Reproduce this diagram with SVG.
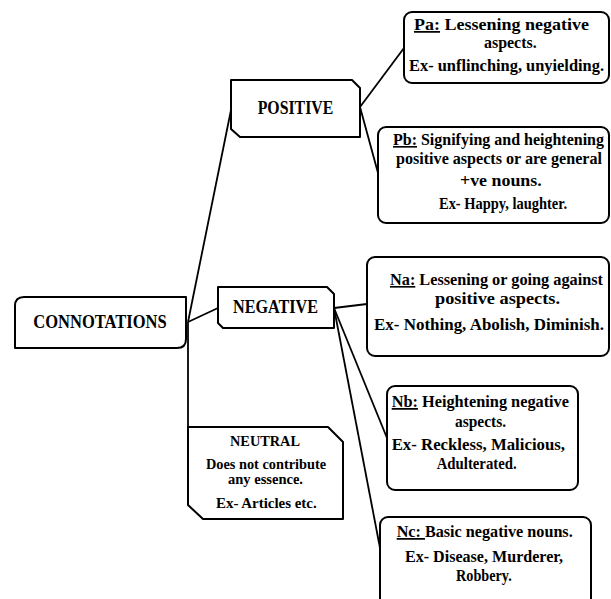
<svg xmlns="http://www.w3.org/2000/svg" width="611" height="599" viewBox="0 0 611 599">
<style>
.box{fill:#fff;stroke:#000;stroke-width:2;stroke-linejoin:round}
.con line{stroke:#000;stroke-width:1.8}
text{font-family:"Liberation Serif","Times New Roman",serif;font-weight:bold;fill:#000;text-anchor:start}
.h{font-size:18.5px}
.b{font-size:17.5px}
.s{font-size:16.2px}
.n{font-size:15px}
</style>
<rect width="611" height="599" fill="#fff"/>
<g id="connectors" class="con">
<line x1="188" y1="322" x2="231" y2="110"/>
<line x1="188" y1="322" x2="218" y2="308"/>
<line x1="188" y1="322" x2="188" y2="427"/>
<line x1="360" y1="107" x2="404" y2="48"/>
<line x1="360" y1="107" x2="378" y2="173"/>
<line x1="334" y1="308" x2="367" y2="304"/>
<line x1="334" y1="308" x2="387" y2="438"/>
<line x1="334" y1="308" x2="380" y2="548"/>
</g>
<g id="connotations">
<path class="box" d="M15,348 L15,306 Q15,297 24,297 L186,297 L186,339 Q186,348 177,348 Z"/>
<text class="h" x="33.3" y="327.7" textLength="133.4" lengthAdjust="spacingAndGlyphs">CONNOTATIONS</text>
</g>
<g id="positive">
<path class="box" d="M231,80 L352,80 L360,88 L360,137 L240,137 L231,129 Z"/>
<text class="h" x="257.7" y="114.3" textLength="75.6" lengthAdjust="spacingAndGlyphs">POSITIVE</text>
</g>
<g id="negative">
<path class="box" d="M218,287 L327,287 L334,294 L334,328 L223,328 L218,323 Z"/>
<text class="h" x="233" y="313.3" textLength="85" lengthAdjust="spacingAndGlyphs">NEGATIVE</text>
</g>
<g id="neutral">
<path class="box" d="M188,427 L328,427 L343,442 L343,519 L203,519 L188,505 Z"/>
<text class="n" x="230" y="445.7" textLength="70" lengthAdjust="spacingAndGlyphs">NEUTRAL</text>
<text class="n" x="206" y="469" textLength="120" lengthAdjust="spacingAndGlyphs">Does not contribute</text>
<text class="n" x="228" y="484" textLength="75" lengthAdjust="spacingAndGlyphs">any essence.</text>
<text class="n" x="216" y="508" textLength="100.7" lengthAdjust="spacingAndGlyphs">Ex- Articles etc.</text>
</g>
<g id="pa">
<rect class="box" x="404" y="12" width="205" height="71" rx="8"/>
<text class="b" x="414" y="30" textLength="175" lengthAdjust="spacingAndGlyphs"><tspan text-decoration="underline">Pa:</tspan> Lessening negative</text>
<text class="b" x="484" y="48.3" textLength="52.7" lengthAdjust="spacingAndGlyphs">aspects.</text>
<text class="s" x="409" y="71" textLength="195" lengthAdjust="spacingAndGlyphs">Ex- unflinching, unyielding.</text>
</g>
<g id="pb">
<rect class="box" x="378" y="127" width="231" height="96" rx="8"/>
<text class="s" x="393" y="145" textLength="211" lengthAdjust="spacingAndGlyphs"><tspan text-decoration="underline">Pb:</tspan> Signifying and heightening</text>
<text class="s" x="396" y="164" textLength="206" lengthAdjust="spacingAndGlyphs">positive aspects or are general</text>
<text class="b" x="460" y="185.7" textLength="81.7" lengthAdjust="spacingAndGlyphs">+ve nouns.</text>
<text class="b" x="439" y="209" textLength="128" lengthAdjust="spacingAndGlyphs">Ex- Happy, laughter.</text>
</g>
<g id="na">
<rect class="box" x="367" y="257" width="242" height="99" rx="8"/>
<text class="s" x="390" y="285" textLength="213" lengthAdjust="spacingAndGlyphs"><tspan text-decoration="underline">Na:</tspan> Lessening or going against</text>
<text class="b" x="435" y="304" textLength="125" lengthAdjust="spacingAndGlyphs">positive aspects.</text>
<text class="s" x="374" y="330" textLength="230" lengthAdjust="spacingAndGlyphs">Ex-  Nothing, Abolish, Diminish.</text>
</g>
<g id="nb">
<rect class="box" x="387" y="386" width="191" height="104" rx="8"/>
<text class="b" x="391.7" y="407" textLength="177.3" lengthAdjust="spacingAndGlyphs"><tspan text-decoration="underline">Nb:</tspan> Heightening negative</text>
<text class="b" x="455" y="426.7" textLength="51" lengthAdjust="spacingAndGlyphs">aspects.</text>
<text class="b" x="391.7" y="450" textLength="173.3" lengthAdjust="spacingAndGlyphs">Ex- Reckless, Malicious,</text>
<text class="b" x="436.7" y="469" textLength="80" lengthAdjust="spacingAndGlyphs">Adulterated.</text>
</g>
<g id="nc">
<rect class="box" x="380" y="517" width="211" height="100" rx="8"/>
<text class="b" x="396.7" y="537" textLength="176" lengthAdjust="spacingAndGlyphs"><tspan text-decoration="underline">Nc: </tspan>Basic negative nouns.</text>
<text class="b" x="405" y="562" textLength="158" lengthAdjust="spacingAndGlyphs">Ex- Disease, Murderer,</text>
<text class="b" x="456" y="581" textLength="55.7" lengthAdjust="spacingAndGlyphs">Robbery.</text>
</g>
</svg>
